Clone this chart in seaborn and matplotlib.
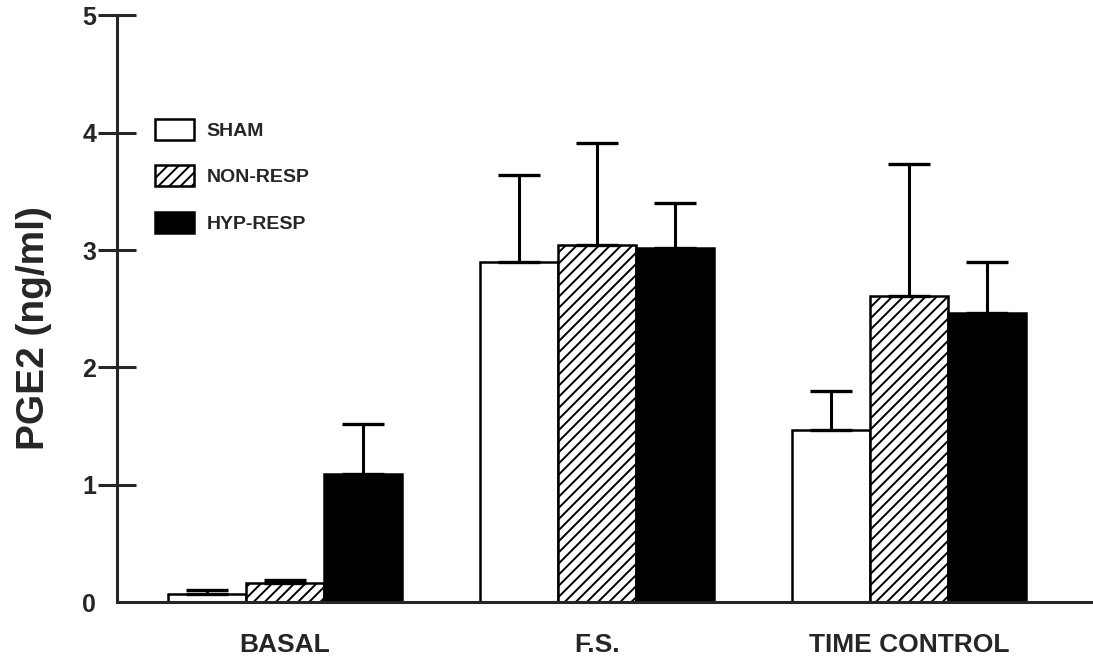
import matplotlib
matplotlib.use("Agg")
import matplotlib.pyplot as plt
import seaborn as sns
import pandas as pd
import numpy as np

# ---- data ----
categories = ["BASAL", "F.S.", "TIME CONTROL"]
groups = ["SHAM", "NON-RESP", "HYP-RESP"]
sham = [0.07, 2.90, 1.47]
sham_err = [0.03, 0.74, 0.33]
nonresp = [0.16, 3.04, 2.61]
nonresp_err = [0.03, 0.87, 1.12]
hypresp = [1.09, 3.02, 2.46]
hypresp_err = [0.43, 0.38, 0.44]
yticks = [0, 1, 2, 3, 4, 5]
ylabel = "PGE2 (ng/ml)"

means = {"SHAM": sham, "NON-RESP": nonresp, "HYP-RESP": hypresp}
errs = {"SHAM": sham_err, "NON-RESP": nonresp_err, "HYP-RESP": hypresp_err}

df = pd.DataFrame([
    {"cond": c, "group": g, "val": means[g][i]}
    for g in groups for i, c in enumerate(categories)
])

sns.set_style("ticks")
plt.rcParams["font.family"] = ["Liberation Sans", "DejaVu Sans"]
plt.rcParams["font.weight"] = "bold"
plt.rcParams["hatch.linewidth"] = 1.4

fig = plt.figure(figsize=(10.93, 6.62), dpi=100)
ax = fig.add_axes([0.107, 0.0906, 0.893, 0.886])

palette = {"SHAM": "white", "NON-RESP": "white", "HYP-RESP": "black"}
sns.barplot(data=df, x="cond", y="val", hue="group", order=categories,
            hue_order=groups, palette=palette, edgecolor="black",
            linewidth=1.8, width=0.75, gap=0, errorbar=None, legend=False,
            ax=ax)

for p in ax.containers[1]:
    p.set_hatch("///")

# upper-only error bars
for cont, g in zip(ax.containers, groups):
    xs = [p.get_x() + p.get_width() / 2 for p in cont]
    ax.errorbar(xs, means[g], yerr=[np.zeros(len(xs)), errs[g]], fmt="none",
                ecolor="black", elinewidth=2.2, capsize=15, capthick=2.4,
                zorder=1)

ax.set_xlim(-0.538, 2.59)
ax.set_ylim(0, 5)
ax.set_yticks(yticks)
ax.set_yticklabels([str(t) for t in yticks], fontsize=18, fontweight="bold")
ax.tick_params(axis="y", direction="inout", length=28, width=2.2, pad=1)
ax.yaxis.get_major_ticks()[0].tick1line.set_visible(False)
ax.tick_params(axis="x", length=0, pad=22, labelsize=19)
for lab in ax.get_xticklabels():
    lab.set_fontweight("bold")

ax.set_xlabel("")
ax.set_ylabel(ylabel, fontsize=28, fontweight="bold")
ax.yaxis.set_label_coords(-0.067, 0.467)

sns.despine(ax=ax)
ax.spines["left"].set_linewidth(2.2)
ax.spines["bottom"].set_linewidth(2.2)

leg = ax.legend(handles=list(ax.containers), labels=groups, loc="upper left",
                bbox_to_anchor=(0.039, 0.824), frameon=False, borderpad=0,
                borderaxespad=0, handlelength=2.0, handleheight=1.3,
                labelspacing=1.3, handletextpad=0.65,
                prop={"size": 14, "weight": "bold"})

fig.savefig("out.png", dpi=100)
